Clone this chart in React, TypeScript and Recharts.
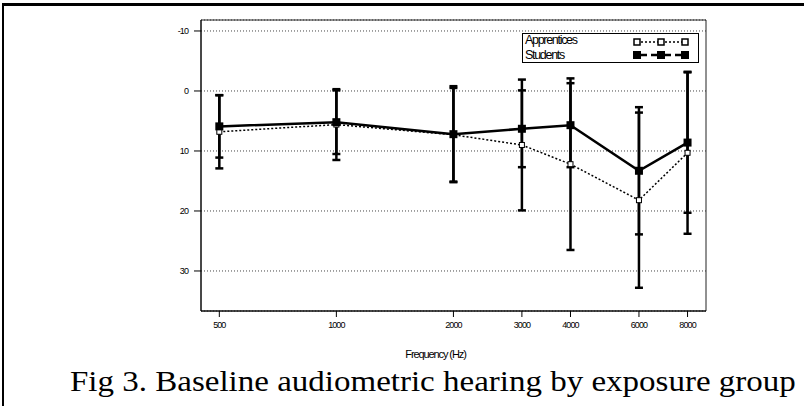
import React from "react";
import {
  ComposedChart,
  Line,
  XAxis,
  YAxis,
  CartesianGrid,
  ErrorBar,
  ReferenceArea,
  Legend,
} from "recharts";

const freqs = [500, 1000, 2000, 3000, 4000, 6000, 8000];
const studentMean = [5.9, 5.2, 7.2, 6.3, 5.7, 13.3, 8.6];
const studentSd = [5.2, 5.3, 8.0, 6.4, 7.0, 10.6, 11.7];
const apprenticeMean = [6.8, 5.6, 7.3, 9.0, 12.2, 18.2, 10.3];
const apprenticeSd = [6.1, 5.9, 7.8, 10.9, 14.3, 14.6, 13.5];
const yTicks = [-10, 0, 10, 20, 30];

const xDomain = [448.6, 8924];
const yDomain = [-11.83, 36.67];

const data = freqs.map((f, i) => ({
  freq: f,
  students: studentMean[i],
  studentsErr: studentSd[i],
  apprentices: apprenticeMean[i],
  apprenticesErr: apprenticeSd[i],
}));

const axisFont = { fontFamily: "'Liberation Sans', Arial", fontSize: 9, letterSpacing: -0.9, fill: "#000" };

const FilledSquare = (props: any) => {
  const { cx, cy, index } = props;
  return <rect key={"s" + index} x={cx - 4} y={cy - 4} width={8} height={8} fill="#000" />;
};

const HollowSquare = (props: any) => {
  const { cx, cy, index } = props;
  return (
    <rect key={"a" + index} x={cx - 2.5} y={cy - 2.5} width={5} height={5} fill="#fff" stroke="#000" strokeWidth={1} />
  );
};

const LegendBox = () => (
  <div
    style={{
      width: 175,
      height: 28,
      border: "1px solid #000",
      background: "#fff",
      fontFamily: "'Liberation Sans', Arial",
      fontSize: 12.5,
      letterSpacing: -1.3,
      lineHeight: "13px",
      position: "relative",
      boxSizing: "content-box",
    }}
  >
    <div style={{ position: "absolute", left: 2, top: 0, height: 13 }}>Apprentices</div>
    <div style={{ position: "absolute", left: 2, top: 15, height: 13 }}>Students</div>
    <svg width={175} height={28} style={{ position: "absolute", left: 0, top: 0 }}>
      <line x1={114} y1={8} x2={162} y2={8} stroke="#000" strokeWidth={1.5} strokeDasharray="2 2" />
      {[114, 138, 162].map((x) => (
        <rect key={"la" + x} x={x - 3} y={5} width={6} height={6} fill="#fff" stroke="#000" strokeWidth={1.5} />
      ))}
      <line x1={114} y1={21} x2={162} y2={21} stroke="#000" strokeWidth={2.5} strokeDasharray="8 4" strokeDashoffset={-2} />
      {[114, 138, 162].map((x) => (
        <rect key={"ls" + x} x={x - 4} y={17} width={8} height={8} fill="#000" />
      ))}
    </svg>
  </div>
);

export default function App() {
  return (
    <div style={{ position: "absolute", left: 0, top: 0, width: 804, height: 406, background: "#fff", overflow: "hidden" }}>
      <div style={{ position: "absolute", left: 2, top: 3, width: 802, height: 3, background: "#000" }} />
      <div style={{ position: "absolute", left: 2, top: 3, width: 2, height: 403, background: "#000" }} />
      <ComposedChart
        width={804}
        height={406}
        data={data}
        margin={{ top: 20, right: 98, bottom: 45, left: 171 }}
        style={{ position: "absolute", left: 0, top: 0 }}
      >
        <CartesianGrid vertical={false} stroke="#444" strokeDasharray="1 2" />
        <ReferenceArea x1={xDomain[0]} x2={xDomain[1]} y1={yDomain[0]} y2={yDomain[1]} fill="none" stroke="#222" strokeWidth={1} fillOpacity={0} />
        <XAxis
          dataKey="freq"
          type="number"
          scale="log"
          domain={xDomain}
          ticks={freqs}
          allowDataOverflow
          height={50}
          tickSize={6}
          tickMargin={5}
          stroke="#000"
          tick={axisFont}
          tickFormatter={(v) => String(v)}
          label={{
            value: "Frequency (Hz)",
            position: "insideBottom",
            offset: 3,
            dx: -18,
            style: { fontFamily: "'Liberation Sans', Arial", fontSize: 11, letterSpacing: -1.1, fill: "#000" },
          }}
        />
        <YAxis
          type="number"
          reversed
          domain={yDomain}
          ticks={yTicks}
          allowDataOverflow
          width={30}
          tickSize={7}
          tickMargin={6}
          stroke="#000"
          tick={axisFont}
        />
        <Legend
          layout="vertical"
          align="center"
          verticalAlign="middle"
          wrapperStyle={{ left: 522, top: 33, width: 177 }}
          content={() => <LegendBox />}
        />
        <Line
          dataKey="apprentices"
          stroke="#000"
          strokeWidth={1.5}
          strokeDasharray="2 2"
          dot={HollowSquare}
          activeDot={false}
          isAnimationActive={false}
        >
          <ErrorBar dataKey="apprenticesErr" direction="y" width={4} stroke="#000" strokeWidth={2.5} />
        </Line>
        <Line
          dataKey="students"
          stroke="#000"
          strokeWidth={2.5}
          dot={FilledSquare}
          activeDot={false}
          isAnimationActive={false}
        >
          <ErrorBar dataKey="studentsErr" direction="y" width={4} stroke="#000" strokeWidth={2.5} />
        </Line>
      </ComposedChart>
      <div
        style={{
          position: "absolute",
          left: 70,
          top: 364,
          fontFamily: "'Liberation Serif', 'Times New Roman', serif",
          fontSize: 30,
          whiteSpace: "nowrap",
          color: "#000",
          transform: "scaleX(1.1)",
          transformOrigin: "left top",
        }}
      >
        Fig 3. Baseline audiometric hearing by exposure group
      </div>
    </div>
  );
}
